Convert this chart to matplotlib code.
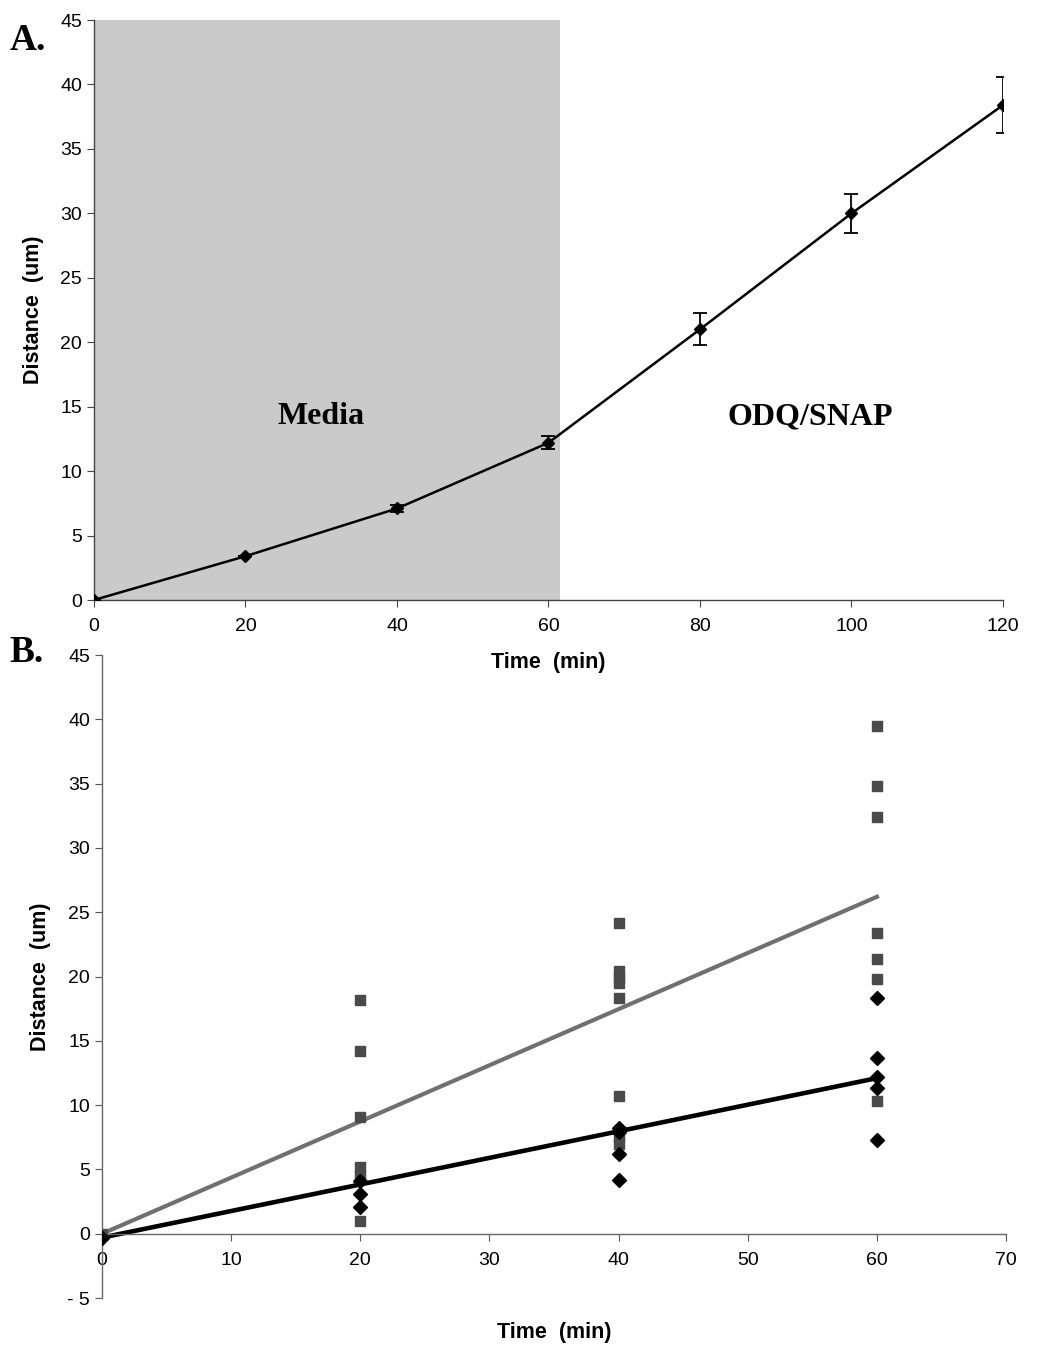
import numpy as np
import matplotlib
matplotlib.use("Agg")
import matplotlib.pyplot as plt

plt.rcParams['font.family'] = ['Liberation Sans', 'DejaVu Sans']

# panel A: mean distance over time
time_a = [0, 20, 40, 60, 80, 100, 120]
dist_a = [0.0, 3.4, 7.1, 12.2, 21.0, 30.0, 38.4]
err_a = [0.0, 0.0, 0.3, 0.5, 1.25, 1.5, 2.15]
media_end = 61.5

# panel B: single cell distances
sq_x = [0, 20, 20, 20, 20, 20, 20,
        40, 40, 40, 40, 40, 40, 40, 40,
        60, 60, 60, 60, 60, 60, 60]
sq_y = [0.0, 18.2, 14.2, 9.1, 5.2, 4.6, 1.0,
        24.2, 20.4, 19.9, 19.5, 18.3, 10.7, 7.5, 7.0,
        39.5, 34.8, 32.4, 23.4, 21.4, 19.8, 10.3]
dm_x = [0, 20, 20, 20, 40, 40, 40, 40, 60, 60, 60, 60, 60]
dm_y = [-0.3, 4.1, 3.1, 2.1, 8.2, 7.9, 6.2, 4.2, 18.3, 13.7, 12.2, 11.3, 7.3]
trend_x = [0, 60]
trend_sq = [0.0, 26.2]
trend_dm = [-0.3, 12.1]

fig = plt.figure(figsize=(10.58, 13.45), dpi=100)

lab_font = dict(fontsize=15.5, fontweight='bold')
tick_size = 14

# ---------- A ----------
ax = fig.add_axes([0.0888, 0.5539, 0.8592, 0.4312])
ax.axvspan(0, media_end, ymin=0, ymax=1, color='#cacaca', zorder=0, lw=0)
ax.plot(time_a, dist_a, color='black', lw=1.8, zorder=3)
ax.errorbar(time_a, dist_a, yerr=err_a, fmt='D', color='black', ms=6,
            capsize=5, elinewidth=1.3, capthick=1.3, zorder=4)
ax.set_xlim(0, 120)
ax.set_ylim(0, 45)
ax.set_xticks(range(0, 121, 20))
ax.set_yticks(range(0, 46, 5))
ax.tick_params(labelsize=tick_size, direction='out', length=5, color='#444')
ax.tick_params(axis='x', pad=8)
for s in ['top', 'right']:
    ax.spines[s].set_visible(False)
for s in ['left', 'bottom']:
    ax.spines[s].set_color('#444')
    ax.spines[s].set_linewidth(1.0)
ax.set_xlabel('Time  (min)', labelpad=12, **lab_font)
ax.set_ylabel('Distance  (um)', labelpad=12, **lab_font)
ax.text(30, 14.2, 'Media', ha='center', va='center', fontsize=23,
        fontweight='bold', family='Liberation Serif')
ax.text(94.5, 14.2, 'ODQ/SNAP', ha='center', va='center', fontsize=23,
        fontweight='bold', family='Liberation Serif')
fig.text(0.009, 0.970, 'A.', fontsize=27, fontweight='bold',
         family='Liberation Serif', va='center', ha='left')

# ---------- B ----------
bx = fig.add_axes([0.0964, 0.0349, 0.8545, 0.4781])
bx.patch.set_visible(False)
bx.plot(trend_x, trend_sq, color='#707070', lw=3, zorder=2)
bx.plot(trend_x, trend_dm, color='black', lw=3.3, zorder=2)
bx.plot(sq_x, sq_y, 's', color='#4a4a4a', ms=7, lw=0, zorder=3)
bx.plot(dm_x, dm_y, 'D', color='black', ms=7.5, lw=0, zorder=3)
bx.set_xlim(0, 70)
bx.set_ylim(-5, 45)
bx.set_xticks(range(0, 71, 10))
bx.set_yticks(range(-5, 46, 5))
bx.set_yticklabels(['- 5'] + [str(v) for v in range(0, 46, 5)])
bx.spines['bottom'].set_position(('data', 0))
for s in ['top', 'right']:
    bx.spines[s].set_visible(False)
for s in ['left', 'bottom']:
    bx.spines[s].set_color('#666')
    bx.spines[s].set_linewidth(1.0)
bx.tick_params(labelsize=tick_size, direction='out', length=5, color='#555')
bx.tick_params(axis='x', pad=8)
bx.set_xlabel('Time  (min)', **lab_font)
bx.xaxis.set_label_coords(0.5, -0.038)
bx.set_ylabel('Distance  (um)', labelpad=12, **lab_font)
fig.text(0.009, 0.515, 'B.', fontsize=27, fontweight='bold',
         family='Liberation Serif', va='center', ha='left')

fig.savefig('out.png', dpi=100)
